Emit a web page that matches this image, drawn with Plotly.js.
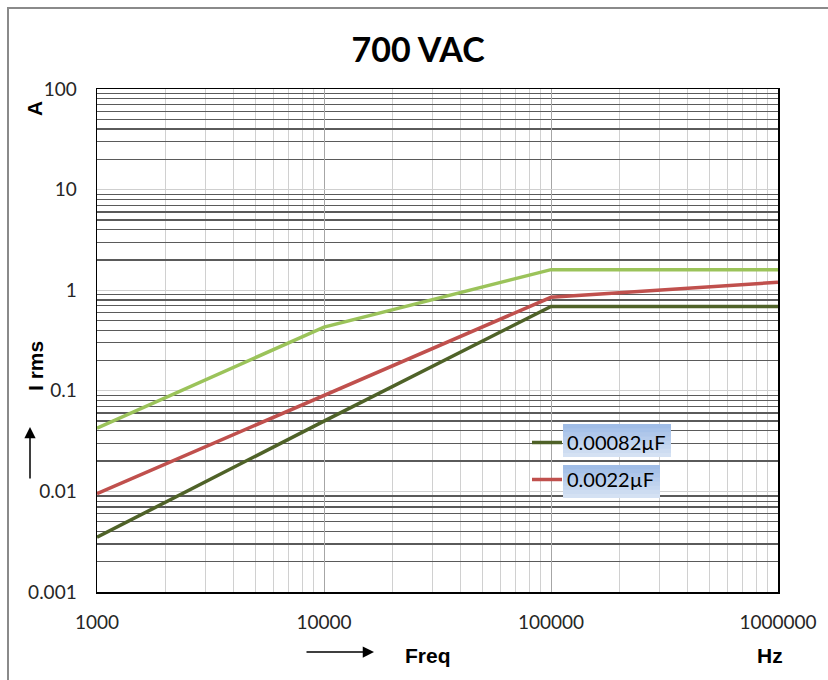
<!DOCTYPE html>
<html>
<head>
<meta charset="utf-8">
<script src="https://cdn.plot.ly/plotly-3.0.1.min.js"></script>
<style>html,body{margin:0;padding:0;background:#fff;}#chart{width:828px;height:680px;}</style>
</head>
<body>
<div id="chart"></div>
<script>
// Frequency points (Hz)
const freq = [1000, 10000, 100000, 1000000];
// Series values (A rms)
const iLightGreen = [0.0425, 0.43, 1.6, 1.6];
const i00082 = [0.0035, 0.05, 0.69, 0.69];
const i0022 = [0.0095, 0.09, 0.85, 1.2];
// Labels
const seriesNames = ['0.00082µF', '0.0022µF'];
const xTickVals = [1000, 10000, 100000, 1000000];
const xTickText = ['1000', '10000', '100000', '1000000'];
const yTickVals = [0.001, 0.01, 0.1, 1, 10, 100];
const yTickText = ['0.001', '0.01', '0.1', '1', '10', '100'];

function minorVals(lo, hi) {
  const v = [];
  for (let d = lo; d < hi; d *= 10) for (let k = 2; k <= 9; k++) v.push(+(d * k).toPrecision(6));
  return v;
}

const L = 97, R = 778, T = 89, B = 592;
const px = x => (x - L) / (R - L);
const py = y => (B - y) / (B - T);

const traces = [
  {x: freq, y: iLightGreen, mode: 'lines', line: {color: '#9bc35a', width: 3.5}, showlegend: false, hoverinfo: 'skip'},
  {x: freq, y: i00082, mode: 'lines', name: seriesNames[0], legendgroup: 'a', line: {color: '#4f6228', width: 3.5}},
  {x: freq, y: i0022, mode: 'lines', name: seriesNames[1], legendgroup: 'b', line: {color: '#c0504d', width: 3.5}}
];

const shapes = [];
// legend label boxes with a soft vertical gradient (overlapping strips, no gaps)
function gradBox(x0, x1, y0, y1) {
  const n = 8;
  const c0 = [160, 189, 231], c1 = [212, 225, 243];
  for (let i = 0; i < n; i++) {
    const t = i / (n - 1);
    const c = c0.map((a, j) => Math.round(a + (c1[j] - a) * t));
    const ya = y0 + (y1 - y0) * i / n;
    shapes.push({type: 'rect', xref: 'paper', yref: 'paper', x0: px(x0), x1: px(x1), y0: py(y1), y1: py(ya),
      fillcolor: 'rgb(' + c.join(',') + ')', line: {width: 0}, layer: 'above'});
  }
}
gradBox(563, 671, 424, 457);
gradBox(563, 660, 465, 498);
// outer chart frame
shapes.push({type: 'rect', xref: 'paper', yref: 'paper', x0: px(8), x1: px(840), y0: py(690), y1: py(8),
  line: {color: '#8a8a8a', width: 2}, fillcolor: 'rgba(0,0,0,0)', layer: 'below'});

const boldFont = {family: 'Liberation Sans, Arial, sans-serif', size: 21, color: '#000'};
const ann = (text, x, y, extra) => Object.assign({text: text, xref: 'paper', yref: 'paper', x: px(x), y: py(y),
  xanchor: 'center', yanchor: 'middle', showarrow: false, font: boldFont}, extra || {});
const annotations = [
  ann('<b>Freq</b>', 428, 655),
  ann('<b>Hz</b>', 770, 655),
  ann('<b>I rms</b>', 35, 366, {textangle: -90}),
  ann('<b>A</b>', 35, 109, {textangle: -90}),
  {text: '', xref: 'paper', yref: 'paper', x: px(374), y: py(652), ax: -69, ay: 0,
   showarrow: true, arrowhead: 2, arrowsize: 1.5, arrowwidth: 1.5, arrowcolor: '#000'},
  {text: '', xref: 'paper', yref: 'paper', x: px(30), y: py(427), ax: 0, ay: 53,
   showarrow: true, arrowhead: 2, arrowsize: 1.5, arrowwidth: 1.5, arrowcolor: '#000'}
];

const tickFont = {family: 'Lato, Liberation Sans, sans-serif', size: 19, color: '#262626'};

const layout = {
  width: 828, height: 680,
  margin: {l: L, r: 828 - R, t: T, b: 680 - B, pad: 0},
  paper_bgcolor: '#fff', plot_bgcolor: '#fff',
  title: {text: '<b>700 VAC</b>', font: {family: 'Lato, Open Sans, sans-serif', size: 34, color: '#000'},
    x: 0.505, xanchor: 'center', y: 1 - 50 / 680, yanchor: 'middle'},
  xaxis: {type: 'log', range: [3, 6], tickmode: 'array', tickvals: xTickVals, ticktext: xTickText,
    showgrid: true, gridcolor: '#a6a6a6', gridwidth: 1, showline: true, linecolor: '#000', linewidth: 1.5, mirror: true,
    ticks: '', ticklabelstandoff: 13, tickfont: tickFont, zeroline: false,
    minor: {tickmode: 'array', tickvals: minorVals(1000, 1000000), showgrid: true, gridcolor: '#d0d0d0', gridwidth: 1, ticks: ''}},
  yaxis: {type: 'log', range: [-3, 2], tickmode: 'array', tickvals: yTickVals, ticktext: yTickText,
    showgrid: true, gridcolor: '#cfcfcf', gridwidth: 1, showline: true, linecolor: '#000', linewidth: 1.5, mirror: true,
    ticks: '', ticklabelstandoff: 15, tickfont: tickFont, zeroline: false,
    minor: {tickmode: 'array', tickvals: minorVals(0.001, 100), showgrid: true, gridcolor: '#5a5a5a', gridwidth: 1.3, ticks: ''}},
  legend: {x: px(527), y: py(423), xanchor: 'left', yanchor: 'top', bgcolor: 'rgba(0,0,0,0)',
    font: {family: 'Lato, Liberation Sans, sans-serif', size: 20, color: '#000'}, tracegroupgap: 8, itemwidth: 30},
  shapes: shapes,
  annotations: annotations,
  showlegend: true
};

Plotly.newPlot('chart', traces, layout, {displayModeBar: false, staticPlot: true});
</script>
</body>
</html>
